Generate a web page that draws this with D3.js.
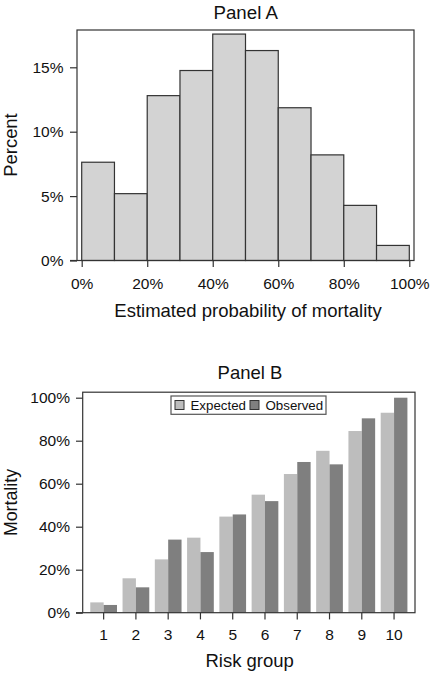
<!DOCTYPE html>
<html>
<head>
<meta charset="utf-8">
<script src="https://cdn.jsdelivr.net/npm/d3@7"></script>
<style>
  html, body { margin: 0; padding: 0; background: #fff; }
  svg { display: block; font-family: "Liberation Sans", Arial, Helvetica, sans-serif; }
</style>
</head>
<body>
<svg id="chart" width="432" height="675"></svg>
<script>
// ---------- Data ----------
// Panel A: histogram of estimated probability of mortality (bin start, %)
const binStarts = [0, 10, 20, 30, 40, 50, 60, 70, 80, 90];
const binPercent = [7.63, 5.19, 12.8, 14.75, 17.58, 16.3, 11.86, 8.2, 4.28, 1.17];
const histXTicks = [0, 20, 40, 60, 80, 100];
const histYTicks = [0, 5, 10, 15];

// Panel B: expected vs observed mortality by risk group
const riskGroups = ["1", "2", "3", "4", "5", "6", "7", "8", "9", "10"];
const expected = [4.8, 16.0, 24.8, 34.9, 44.7, 54.9, 64.5, 75.3, 84.5, 93.0];
const observed = [3.6, 11.8, 34.0, 28.2, 45.7, 51.9, 70.1, 69.0, 90.4, 100];
const seriesNames = ["Expected", "Observed"];
const mortYTicks = [0, 20, 40, 60, 80, 100];

// ---------- Drawing ----------
const svg = d3.select("#chart");
const ink = "#111";
const pct = d => d + "%";

// ===== Panel A =====
const A = { left: 77, right: 414, top: 30, bottom: 260.5 };
const xA = d3.scaleLinear().domain([0, 100]).range([81.7, 409.3]);
const yA = d3.scaleLinear().domain([0, 15]).range([A.bottom, 67.3]);
const gA = svg.append("g");

gA.selectAll("rect.bin")
  .data(binStarts.map((s, i) => ({ s, v: binPercent[i] })))
  .join("rect")
  .attr("class", "bin")
  .attr("x", d => xA(d.s))
  .attr("y", d => yA(d.v))
  .attr("width", d => xA(d.s + 10) - xA(d.s))
  .attr("height", d => yA(0) - yA(d.v))
  .attr("fill", "#d3d3d3")
  .attr("stroke", "#333")
  .attr("stroke-width", 1.2);

gA.append("rect")
  .attr("x", A.left).attr("y", A.top)
  .attr("width", A.right - A.left).attr("height", A.bottom - A.top)
  .attr("fill", "none").attr("stroke", "#333").attr("stroke-width", 1.2);

const axA_y = gA.append("g")
  .attr("transform", `translate(${A.left},0)`)
  .call(d3.axisLeft(yA).tickValues(histYTicks).tickFormat(pct).tickSize(7).tickPadding(6.5));
const axA_x = gA.append("g")
  .attr("transform", `translate(0,${A.bottom})`)
  .call(d3.axisBottom(xA).tickValues(histXTicks).tickFormat(pct).tickSize(6.5).tickPadding(10.7));
[axA_y, axA_x].forEach(ax => {
  ax.select(".domain").remove();
  ax.selectAll(".tick line").attr("stroke", "#333").attr("stroke-width", 1.2);
  ax.selectAll(".tick text").attr("fill", ink).style("font-size", "15.5px")
    .style("font-family", "'Liberation Sans', Arial, sans-serif");
});
// axis line (R style) from left of y ticks
gA.append("line").attr("x1", 70).attr("x2", A.left).attr("y1", A.bottom).attr("y2", A.bottom)
  .attr("stroke", "#333").attr("stroke-width", 1.2);

gA.append("text").attr("x", 245.7).attr("y", 19).attr("text-anchor", "middle")
  .attr("fill", ink).style("font-size", "18.7px").text("Panel A");
gA.append("text").attr("x", 248).attr("y", 316.7).attr("text-anchor", "middle")
  .attr("fill", ink).style("font-size", "18.5px").text("Estimated probability of mortality");
gA.append("text").attr("transform", "translate(16.7,145) rotate(-90)").attr("text-anchor", "middle")
  .attr("fill", ink).style("font-size", "18.4px").text("Percent");

// ===== Panel B =====
const B = { left: 82.7, right: 415, top: 392.2, bottom: 612.7 };
const xB = d3.scaleBand().domain(riskGroups).range([B.left, B.right])
  .paddingInner(0.172).paddingOuter(0.235);
const xInner = d3.scaleBand().domain(seriesNames).range([0, xB.bandwidth()]);
const yB = d3.scaleLinear().domain([0, 100]).range([B.bottom, 397.7]);
const colors = { Expected: "#bdbdbd", Observed: "#7f7f7f" };
const gB = svg.append("g");

const rows = riskGroups.map((g, i) => ({ g, Expected: expected[i], Observed: observed[i] }));
gB.selectAll("g.grp")
  .data(rows)
  .join("g")
  .attr("class", "grp")
  .attr("transform", d => `translate(${xB(d.g)},0)`)
  .selectAll("rect")
  .data(d => seriesNames.map(k => ({ k, v: d[k] })))
  .join("rect")
  .attr("x", d => xInner(d.k))
  .attr("y", d => yB(d.v))
  .attr("width", xInner.bandwidth())
  .attr("height", d => yB(0) - yB(d.v))
  .attr("fill", d => colors[d.k]);

gB.append("rect")
  .attr("x", B.left).attr("y", B.top)
  .attr("width", B.right - B.left).attr("height", B.bottom - B.top)
  .attr("fill", "none").attr("stroke", "#333").attr("stroke-width", 1.2);

const axB_y = gB.append("g")
  .attr("transform", `translate(${B.left},0)`)
  .call(d3.axisLeft(yB).tickValues(mortYTicks).tickFormat(pct).tickSize(6.7).tickPadding(6));
const axB_x = gB.append("g")
  .attr("transform", `translate(0,${B.bottom})`)
  .call(d3.axisBottom(xB).tickSize(6.7).tickPadding(9.3));
[axB_y, axB_x].forEach(ax => {
  ax.select(".domain").remove();
  ax.selectAll(".tick line").attr("stroke", "#333").attr("stroke-width", 1.2);
  ax.selectAll(".tick text").attr("fill", ink).style("font-size", "15.5px")
    .style("font-family", "'Liberation Sans', Arial, sans-serif");
});
gB.append("line").attr("x1", 76).attr("x2", B.left).attr("y1", B.bottom).attr("y2", B.bottom)
  .attr("stroke", "#333").attr("stroke-width", 1.2);

gB.append("text").attr("x", 250).attr("y", 379).attr("text-anchor", "middle")
  .attr("fill", ink).style("font-size", "18.5px").text("Panel B");
gB.append("text").attr("x", 249.7).attr("y", 667).attr("text-anchor", "middle")
  .attr("fill", ink).style("font-size", "18.5px").text("Risk group");
gB.append("text").attr("transform", "translate(16.7,502.5) rotate(-90)").attr("text-anchor", "middle")
  .attr("fill", ink).style("font-size", "17.8px").text("Mortality");

// Legend
const leg = gB.append("g");
leg.append("rect").attr("x", 171).attr("y", 396).attr("width", 155).attr("height", 18.3)
  .attr("fill", "#fff").attr("stroke", "#555").attr("stroke-width", 1.2);
const legX = { Expected: 175, Observed: 250 };
seriesNames.forEach(k => {
  leg.append("rect").attr("x", legX[k]).attr("y", 400.5).attr("width", 9).attr("height", 9)
    .attr("fill", colors[k]).attr("stroke", "#333").attr("stroke-width", 1);
  leg.append("text").attr("x", legX[k] + 15.5).attr("y", 409.5)
    .attr("fill", ink).style("font-size", "13.3px").text(k);
});
</script>
</body>
</html>
